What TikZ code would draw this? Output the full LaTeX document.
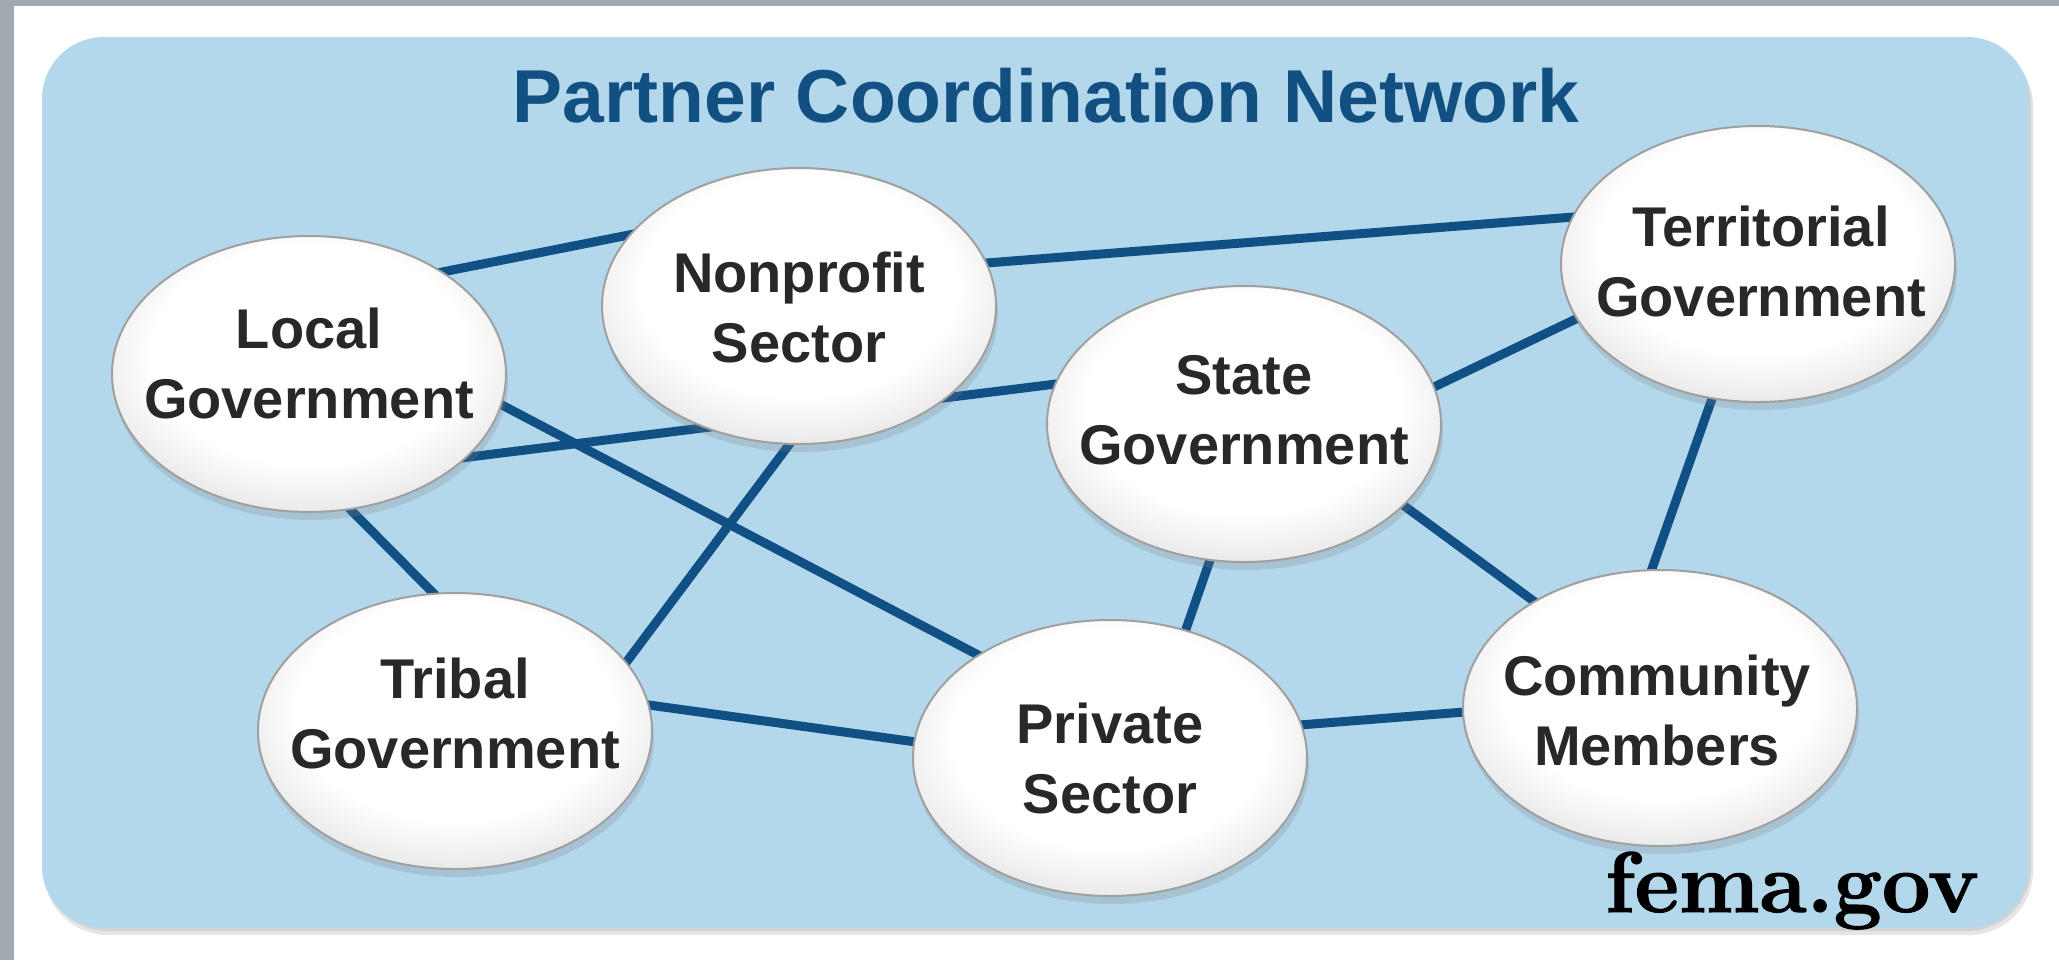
\documentclass[tikz,border=0pt]{standalone}
\usepackage{fontspec}
\newfontfamily\labelfont{Liberation Sans}
\newfontfamily\femafont{Latin Modern Roman}[BoldFeatures={FakeBold=1.3}]
\usetikzlibrary{shapes.geometric,shadows,calc}
\definecolor{gstrip}{RGB}{160,170,178}
\definecolor{panel}{RGB}{179,215,235}
\definecolor{linkblue}{RGB}{16,80,132}
\definecolor{titleblue}{RGB}{18,80,130}
\definecolor{textgray}{RGB}{40,40,40}
\definecolor{rimgray}{RGB}{160,160,160}
\pgfdeclarelayer{background}
\pgfdeclarelayer{links}
\pgfsetlayers{background,links,main}
\pgfdeclareradialshading{bubbleshade}{\pgfpoint{0bp}{6bp}}{color(0bp)=(white); color(20bp)=(white); color(31bp)=(black!12); color(50bp)=(black!12)}
\tikzset{
  bubble/.style={ellipse, minimum width=197pt, minimum height=138pt, inner sep=0pt,
    draw=rimgray, line width=1pt, shading=bubbleshade,
    drop shadow={opacity=0.22, shadow xshift=1pt, shadow yshift=-4pt}},
  bubbletext/.style={font=\labelfont\bfseries\fontsize{28pt}{35pt}\selectfont,
    text=textgray, align=center, inner sep=0pt},
  link/.style={draw=linkblue, line width=4.5pt},
}
\begin{document}
\begin{tikzpicture}[x=0.5pt,y=-0.5pt]
\useasboundingbox (0,0) rectangle (2059,960);
\begin{pgfonlayer}{background}
  \fill[white] (0,0) rectangle (2059,960);
  \fill[gstrip] (0,0) rectangle (14,960);
  \fill[gstrip] (0,0) rectangle (2059,6);
  \fill[black, opacity=0.10, rounded corners=32pt] (44,42) rectangle (2033,935);
  \fill[black, opacity=0.08, rounded corners=32pt] (44,40) rectangle (2031,931);
  \fill[panel, rounded corners=31pt] (42,37) rectangle (2029,928);
\end{pgfonlayer}

\node[font=\labelfont\bfseries\fontsize{37.5pt}{45pt}\selectfont, text=titleblue, anchor=base, inner sep=0pt]
  (title) at (1046,122) {Partner Coordination Network};

\node[bubble] (local) at (309,374) {};
\node[bubble] (nonprofit) at (799,306) {};
\node[bubble] (state) at (1244,424) {};
\node[bubble] (territorial) at (1758,264) {};
\node[bubble] (tribal) at (455,731) {};
\node[bubble] (private) at (1110,758) {};
\node[bubble] (community) at (1660,708) {};

\node[bubbletext] (localtxt) at (309,363) {Local\\Government};
\node[bubbletext] (nonprofittxt) at (799,307) {Nonprofit\\Sector};
\node[bubbletext] (statetxt) at (1244,410) {State\\Government};
\node[bubbletext] (territorialtxt) at (1761,261) {Territorial\\Government};
\node[bubbletext] (tribaltxt) at (455,713) {Tribal\\Government};
\node[bubbletext] (privatetxt) at (1110,758) {Private\\Sector};
\node[bubbletext] (communitytxt) at (1657,710) {Community\\Members};

\node[font=\femafont\bfseries\fontsize{43pt}{51pt}\selectfont, anchor=base, inner sep=0pt]
  (fema) at (1792,912) {fema.gov};

\begin{pgfonlayer}{links}
  \draw[link] ($(local)+(108,-97)$) -- ($(nonprofit)+(-150,-75)$);
  \draw[link] ($(nonprofit)+(162,-41)$) -- ($(territorial)+(-159,-49)$);
  \draw[link] ($(local)+(136,86)$) -- ($(state)+(-164,-43)$);
  \draw[link] ($(local)+(170,19)$) -- ($(private)+(-109,-91)$);
  \draw[link] ($(local)+(27,121)$) -- ($(tribal)+(-3,-119)$);
  \draw[link] ($(nonprofit)+(4,120)$) -- ($(tribal)+(155,-47)$);
  \draw[link] ($(tribal)+(165,-30)$) -- ($(private)+(-165,-12)$);
  \draw[link] ($(state)+(-26,113)$) -- ($(private)+(68,-106)$);
  \draw[link] ($(state)+(167,-26)$) -- ($(territorial)+(-155,42)$);
  \draw[link] ($(state)+(140,67)$) -- ($(community)+(-102,-89)$);
  \draw[link] ($(territorial)+(-38,112)$) -- ($(community)+(-18,-111)$);
  \draw[link] ($(private)+(164,-31)$) -- ($(community)+(-170,2)$);
\end{pgfonlayer}
\end{tikzpicture}
\end{document}
